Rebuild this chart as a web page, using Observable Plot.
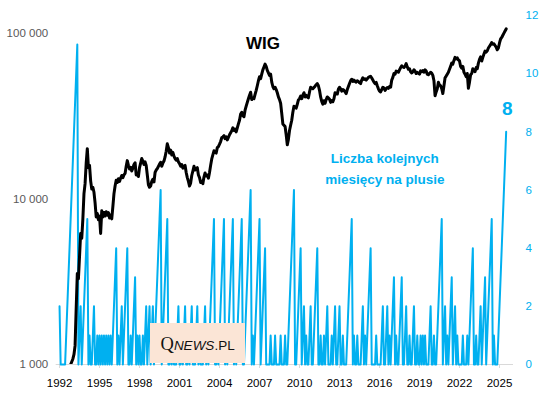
<!DOCTYPE html>
<html><head><meta charset="utf-8">
<script src="https://cdn.jsdelivr.net/npm/d3@7"></script>
<script src="https://cdn.jsdelivr.net/npm/@observablehq/plot@0.6"></script>
<style>
body{margin:0;background:#fff;}
#wrap{position:relative;width:547px;height:398px;overflow:hidden;}
#logo{position:absolute;left:150px;top:323px;width:95px;height:40px;background:#FBE5D6;}
</style></head><body>
<div id="wrap"><div id="chart"></div>
<div id="logo"><svg width="95" height="40"><text x="10.5" y="26.5" fill="#111"><tspan font-family="Liberation Serif" font-size="18.5">Q</tspan><tspan font-family="Liberation Sans" font-style="italic" font-size="13.5">NEWS</tspan><tspan font-family="Liberation Sans" font-size="13.5">.PL</tspan></text></svg></div>
</div>
<script>
// monthly data, first value = January 1992
const startYear = 1992;

// WIG index, month-end levels (one row per year)
const wig = [
 960, 900, 860, 820, 780, 750, 770, 800, 850, 920, 1000, 1040,
 1080, 1150, 1300, 2200, 3550, 3300, 4500, 6200, 5800, 7600, 10800, 12400,
 16500, 20200, 15500, 16000, 12900, 11500, 11800, 11000, 9500, 7800, 8200, 7500,
 7900, 6200, 8500, 7800, 8300, 7900, 8400, 8000, 8300, 7700, 8000, 7600,
 9000, 10800, 12000, 13000, 12600, 13300, 12800, 13400, 13900, 13500, 14000, 14300,
 15800, 17100, 16000, 15200, 15600, 14800, 15400, 16200, 16600, 14000, 14300, 13700,
 15500, 16500, 17600, 17000, 16200, 16800, 16000, 14000, 12200, 11800, 12000, 12800,
 13200, 12700, 14500, 15000, 15300, 15800, 16300, 16700, 15800, 16500, 17000, 18000,
 19500, 21600, 20500, 19000, 19800, 18500, 19200, 18200, 17600, 17200, 17600, 16800,
 16400, 15800, 16200, 15400, 15800, 16000, 14500, 13500, 12800, 12000, 12500, 13900,
 14800, 15800, 15000, 15300, 15500, 14000, 13500, 12600, 12800, 12400, 13600, 14400,
 13800, 14000, 13400, 14500, 16000, 17500, 18500, 19600, 19200, 19000, 20500, 20800,
 21500, 22300, 23500, 23800, 24200, 23200, 23800, 22800, 23600, 24500, 25200, 25900,
 27000, 26000, 26500, 25500, 27000, 28500, 30000, 32700, 33500, 32000, 31500, 34500,
 36500, 38500, 40500, 42500, 44300, 40000, 41000, 40500, 43000, 45500, 48500, 52000,
 55000, 53500, 57000, 60500, 63000, 65500, 63500, 60000, 58000, 56000, 57000, 51000,
 48000, 46500, 47500, 46000, 44000, 41500, 40000, 38000, 33000, 28500, 28000, 27500,
 24500, 21300, 23000, 26000, 28000, 30000, 33500, 36500, 36000, 35500, 37500, 39800,
 40500, 42000, 40500, 42500, 44000, 41500, 42500, 41500, 41000, 44500, 47500, 47000,
 46500, 47300, 48200, 49200, 50000, 48500, 45500, 41500, 39000, 37500, 39400, 38000,
 40000, 41500, 41000, 40200, 38500, 39500, 38800, 40500, 44000, 43500, 43200, 46300,
 47500, 46500, 45000, 46000, 45500, 44500, 43500, 46000, 48000, 50000, 52000, 53100,
 51500, 52500, 51500, 51000, 52000, 51500, 50500, 50000, 52500, 54200, 53000, 53500,
 52500, 53500, 54500, 55000, 55300, 54000, 52500, 51000, 50000, 50800, 48500, 46500,
 45000, 44500, 46000, 47500, 47000, 45500, 46500, 47300, 46800, 48000, 47500, 52500,
 54500, 57500, 57000, 59500, 59000, 58500, 60500, 62500, 64000, 63000, 62500, 63700,
 66000, 63000, 61000, 61500, 59000, 58000, 59000, 60500, 59500, 57500, 58500, 57700,
 57000, 59700, 59000, 60000, 58500, 60500, 59500, 57000, 56500, 57500, 58500, 57800,
 56000, 52000, 42200, 44500, 46500, 50900, 49000, 48500, 46500, 43500, 48500, 54200,
 55500, 57000, 58500, 61000, 63500, 66500, 65500, 69000, 72000, 70500, 71500, 69500,
 68500, 63500, 62000, 63500, 58500, 57000, 55000, 57500, 46800, 51000, 56500, 57500,
 61500, 60000, 59000, 62500, 61500, 66500, 70000, 72500, 68500, 72000, 75500, 78500,
 77500, 79000, 82000, 84000, 86000, 88500, 86500, 87000, 85000, 83000, 80000, 82000,
 88000, 93000, 95000, 98000, 101000, 104000, 107000
];

// number of consecutive months on plus (one row per year)
const plusMonths = [
 2,0,0,0,0,0,1,2,3,4,5,6,
 7,8,9,10,11,0,1,2,0,1,2,3,
 4,5,0,1,0,0,1,2,0,0,1,0,
 1,0,1,0,1,0,1,0,1,0,1,0,
 1,2,3,4,0,1,0,1,2,0,1,2,
 3,4,0,0,1,0,1,2,3,0,1,0,
 1,0,0,1,0,1,2,0,1,2,0,1,
 2,0,1,2,3,4,5,6,0,1,2,3,
 4,5,0,0,1,0,1,0,0,0,1,2,
 0,0,1,0,1,2,0,0,1,0,1,2,
 0,0,0,1,2,0,1,0,0,0,1,2,
 0,1,0,1,2,3,4,5,0,0,1,0,
 1,2,3,4,5,0,1,0,1,2,3,4,
 5,0,1,0,1,2,3,4,5,0,0,1,
 2,3,4,5,6,0,1,0,1,2,3,4,
 5,0,1,2,3,4,0,0,0,0,1,0,
 0,0,1,0,0,0,0,1,0,0,0,1,
 0,0,1,2,3,4,5,6,0,0,1,2,
 3,4,0,1,2,0,1,0,0,1,2,0,
 0,1,2,3,4,0,0,1,0,0,1,0,
 1,2,0,0,0,1,0,1,2,0,0,1,
 2,0,0,1,0,0,0,1,2,3,4,5,
 0,1,0,0,1,0,0,0,1,2,0,1,
 0,1,2,3,4,0,0,0,0,1,0,0,
 0,0,1,2,0,0,1,2,0,1,0,1,
 2,3,0,1,0,0,1,2,3,0,0,1,
 2,0,0,1,0,0,1,2,0,0,1,0,
 0,1,0,1,0,1,0,0,0,1,2,0,
 0,1,0,0,1,2,3,4,5,0,1,2,
 0,1,0,1,2,3,0,1,2,0,1,0,
 0,0,0,1,0,0,0,1,0,1,2,3,
 4,0,0,1,0,0,1,2,0,1,2,3,
 0,1,2,3,4,5,0,1,0,0,0,1,
 2,3,4,5,6,7,8
];

// tick labels
const yearTicks = [1992, 1995, 1998, 2001, 2004, 2007, 2010, 2013, 2016, 2019, 2022, 2025];
const wigTicks = [1000, 10000, 100000];
const countTicks = [0, 2, 4, 6, 8, 10, 12];

// texts
const wigLabel = [{t: 2007.26, v: 87000, text: "WIG"}];
const seriesLabel = [{t: 2016.4, c: 6.81, text: "Liczba kolejnych\nmiesięcy na plusie"}];

const wigMin = 1000, wigMax = 129000, countMax = 12;
const cScale = d3.scaleLinear().domain([0, countMax]).range([Math.log10(wigMin), Math.log10(wigMax)]);
const toWig = c => Math.pow(10, cScale(c));

const rows = wig.map((v, i) => ({t: startYear + i / 12, wig: v, plus: plusMonths[i]}));
const last = rows[rows.length - 1];
const fmtSpace = d => d3.format(",")(d).replace(/,/g, " ");
const blue = "#00B0F0";

const chart = Plot.plot({
  width: 547, height: 398,
  marginLeft: 55.7, marginRight: 34, marginTop: 15, marginBottom: 34,
  x: {domain: [1991.75, 2026.05]},
  y: {type: "log", domain: [wigMin, wigMax]},
  style: {fontFamily: "Liberation Sans, Arial, sans-serif", fontSize: "11.5px", background: "white"},
  marks: [
    Plot.ruleY([wigMin], {stroke: "#d9d9d9", strokeWidth: 1}),
    Plot.axisX(yearTicks, {tickSize: 4, tickPadding: 10, stroke: "#d9d9d9", fill: "#000", tickFormat: d => String(d), label: null}),
    Plot.axisY(wigTicks, {anchor: "left", tickSize: 0, tickPadding: 8, fill: "#595959", tickFormat: fmtSpace, label: null}),
    // secondary (right) axis for the count series
    Plot.text(countTicks, {y: d => toWig(d), text: d => String(d), frameAnchor: "right", dx: 12, textAnchor: "start", fill: blue, fontSize: 11.5}),
    Plot.line(rows, {x: "t", y: d => toWig(d.plus), stroke: blue, strokeWidth: 2}),
    Plot.line(rows, {x: "t", y: "wig", stroke: "#000", strokeWidth: 3, clip: true}),
    Plot.text(wigLabel, {x: "t", y: "v", text: "text", fontSize: 17, fontWeight: "bold", fill: "#000"}),
    Plot.text(seriesLabel, {x: "t", y: d => toWig(d.c), text: "text", fontSize: 13.5, fontWeight: "bold", fill: blue, lineHeight: 1.6}),
    Plot.text([last], {x: "t", y: d => toWig(d.plus), text: d => String(d.plus), dy: -23, dx: 1, fontSize: 19, fontWeight: "bold", fill: blue})
  ]
});
document.getElementById("chart").appendChild(chart);
</script>
</body></html>
